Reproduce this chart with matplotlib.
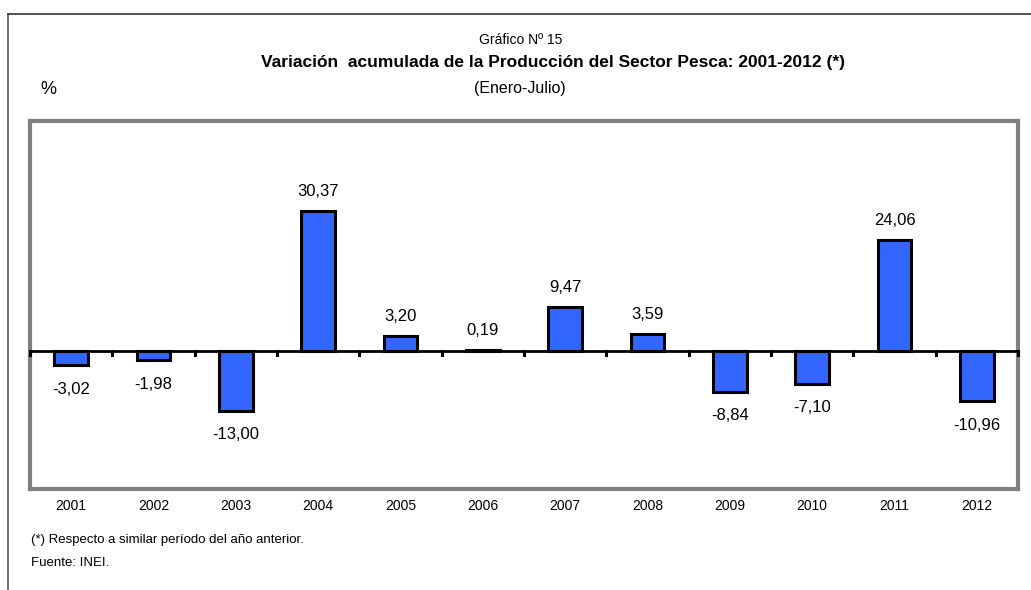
import matplotlib
matplotlib.use("Agg")
import matplotlib.pyplot as plt
from matplotlib.lines import Line2D

years = ["2001", "2002", "2003", "2004", "2005", "2006", "2007", "2008", "2009", "2010", "2011", "2012"]
values = [-3.02, -1.98, -13.00, 30.37, 3.20, 0.19, 9.47, 3.59, -8.84, -7.10, 24.06, -10.96]
labels = ["-3,02", "-1,98", "-13,00", "30,37", "3,20", "0,19", "9,47", "3,59", "-8,84", "-7,10", "24,06", "-10,96"]

narrow = ["Liberation Sans Narrow", "Liberation Sans", "Arial", "DejaVu Sans"]
sans = ["Liberation Sans", "Arial", "DejaVu Sans"]

W, H = 1031, 590
fig = plt.figure(figsize=(W / 100, H / 100), dpi=100)

def fx(px):
    return px / W

def fy(py):
    return 1 - py / H

# outer frame
fig.add_artist(Line2D([fx(8), fx(8)], [fy(14), 0], color="#555555", lw=1.2))
fig.add_artist(Line2D([fx(8), 1], [fy(14), fy(14)], color="#333333", lw=1.2))

ax = fig.add_axes([fx(30), fy(489), fx(1018) - fx(30), fy(121) - fy(489)])
x = list(range(len(years)))
ax.bar(x, values, width=0.41, color="#3366FF", edgecolor="black", linewidth=2.2, zorder=3)
ax.set_xlim(-0.5, len(years) - 0.5)
ax.set_ylim(-30, 50)
ax.axhline(0, color="black", lw=2, zorder=4)
for b in range(len(years) + 1):
    ax.plot([b - 0.5, b - 0.5], [0, -0.8], color="black", lw=2.2, zorder=4, clip_on=False)
ax.set_yticks([])
ax.set_xticks([])
for s in ax.spines.values():
    s.set_color("#808080")
    s.set_linewidth(3)

for xi, v, lab in zip(x, values, labels):
    if v >= 0:
        ax.annotate(lab, (xi, v), xytext=(0, 9), textcoords="offset points",
                    ha="center", va="bottom", fontsize=12, family=sans)
    else:
        ax.annotate(lab, (xi, v), xytext=(0, -12), textcoords="offset points",
                    ha="center", va="top", fontsize=12, family=sans)

for xi, y in zip(x, years):
    ax.text(xi, -33.7, y, ha="center", va="center", fontsize=10, family=narrow,
            transform=ax.transData)

fig.text(fx(521), fy(40), "Gráfico Nº 15", ha="center", va="center", fontsize=10, family=narrow)
fig.text(fx(553), fy(63), "Variación  acumulada de la Producción del Sector Pesca: 2001-2012 (*)",
         ha="center", va="center", fontsize=12.5, family=narrow, fontweight="bold")
fig.text(fx(520), fy(88), "(Enero-Julio)", ha="center", va="center", fontsize=11.5, family=narrow)
fig.text(fx(48), fy(90), "%", ha="center", va="center", fontsize=13, family=sans)
fig.text(fx(31), fy(540), "(*) Respecto a similar período del año anterior.", ha="left", va="center",
         fontsize=9.5, family=narrow)
fig.text(fx(31), fy(563), "Fuente: INEI.", ha="left", va="center", fontsize=9.5, family=narrow)

fig.savefig("out.png", dpi=100)
